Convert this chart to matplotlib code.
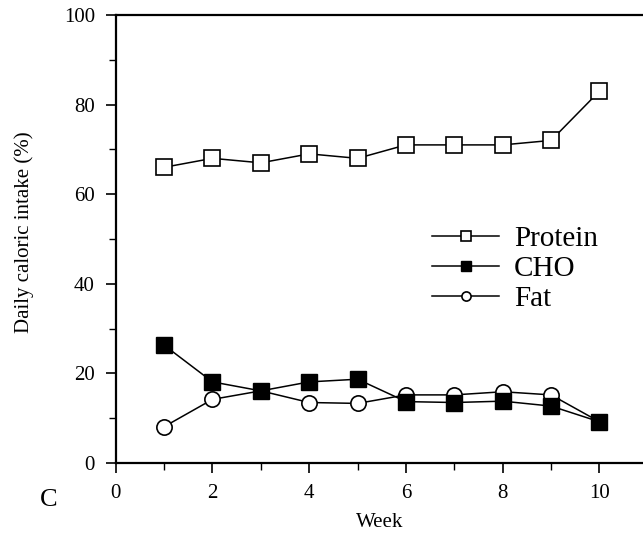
import matplotlib.pyplot as plt
from matplotlib.ticker import MultipleLocator

plt.rcParams['font.family'] = ['Liberation Serif', 'DejaVu Serif']

weeks = [1, 2, 3, 4, 5, 6, 7, 8, 9, 10]
protein = [66, 68, 67, 69, 68, 71, 71, 71, 72, 83]
cho = [26.3, 18.1, 16.1, 18.1, 18.7, 13.7, 13.5, 13.8, 12.7, 9.2]
fat = [8.1, 14.2, 16.1, 13.5, 13.3, 15.2, 15.2, 15.9, 15.2, 9.2]

fig = plt.figure(figsize=(6.43, 5.35), dpi=100)
ax = fig.add_axes([0.180, 0.1346, 0.82, 0.8374])

# Fat first so the filled CHO squares sit on top
ax.plot(weeks, fat, color='black', lw=1.1, marker='o', ms=11,
        mfc='white', mec='black', mew=1.2, label='Fat', zorder=3)
ax.plot(weeks, cho, color='black', lw=1.1, marker='s', ms=11.5,
        mfc='black', mec='black', label='CHO', zorder=4)
ax.plot(weeks, protein, color='black', lw=1.1, marker='s', ms=11.5,
        mfc='white', mec='black', mew=1.2, label='Protein', zorder=3)

ax.set_xlim(0, 10.9)
ax.set_ylim(0, 100)
ax.xaxis.set_major_locator(MultipleLocator(2))
ax.xaxis.set_minor_locator(MultipleLocator(1))
ax.yaxis.set_major_locator(MultipleLocator(20))
ax.yaxis.set_minor_locator(MultipleLocator(10))
ax.tick_params(which='major', direction='out', length=7, width=1.2, labelsize=15)
ax.tick_params(which='minor', direction='out', length=5, width=1.0)
ax.tick_params(axis='y', pad=8)
ax.tick_params(axis='x', pad=8)

ax.spines['right'].set_visible(False)
for s in ['left', 'bottom', 'top']:
    ax.spines[s].set_linewidth(1.6)

ax.set_xlabel('Week', fontsize=15, labelpad=7)
ax.set_ylabel('Daily caloric intake (%)', fontsize=15)
ax.yaxis.set_label_coords(-0.155, 0.515)

handles, labels = ax.get_legend_handles_labels()
order = [2, 1, 0]
ax.legend([handles[i] for i in order], [labels[i] for i in order],
          loc='center left', bbox_to_anchor=(0.60, 0.433), frameon=False,
          fontsize=21, markerscale=0.6, handlelength=2.3, handletextpad=0.5,
          labelspacing=0.12, borderpad=0, borderaxespad=0)

fig.text(0.062, 0.055, 'C', fontsize=19)

fig.savefig('out.png', dpi=100)
